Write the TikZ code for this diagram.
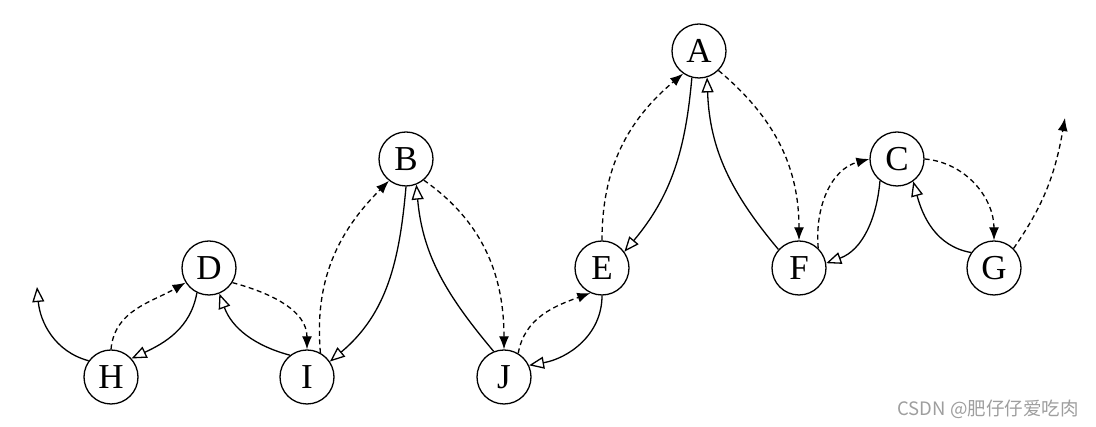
\documentclass[tikz,border=0pt]{standalone}
\usepackage{fontspec}
\setmainfont{Liberation Serif}
\newfontfamily\cjk{Noto Sans CJK SC}
\usetikzlibrary{arrows.meta}
\begin{document}
\begin{tikzpicture}[x=1pt,y=1pt,
  st/.style={circle, draw, line width=1.3pt, minimum size=54pt, inner sep=0pt, font=\fontsize{35}{35}\selectfont},
  sol/.style={line width=1.3pt, -{Triangle[open,length=15pt,width=12pt,fill=white]}},
  das/.style={line width=1.3pt, dash pattern=on 5pt off 3.5pt, -{Latex[length=13pt,width=10pt]}},
  wm/.style={text=black!38, font=\cjk\fontsize{18.5}{18.5}\selectfont}
]
\useasboundingbox (0,0) rectangle (1096,427);
\node[st] (H) at (111,50) {H};
\node[st] (D) at (209,159) {D};
\node[st] (I) at (307,50) {I};
\node[st] (B) at (406,268) {B};
\node[st] (J) at (504,50) {J};
\node[st] (E) at (602,159) {E};
\node[st] (A) at (699,376) {A};
\node[st] (F) at (799,159) {F};
\node[st] (C) at (897,268) {C};
\node[st] (G) at (994,159) {G};
\coordinate (hend) at (37,140);
\coordinate (gend) at (1065,309);

\draw[sol] (H.144) to[out=165,in=275] (hend);
\draw[das] (H.90) to[out=85,in=210] (D.212);
\draw[sol] (D.244) to[out=260,in=25] (H.42);
\draw[das] (D.328) to[out=-15,in=90] (I.90);
\draw[sol] (I.128) to[out=165,in=290] (D.292);
\draw[das] (I.61) to[out=95,in=225] (B.232);
\draw[sol] (B.270) to[out=265,in=40] (I.34);
\draw[das] (B.310) to[out=-35,in=90] (J.90);
\draw[sol] (J.112) to[out=130,in=275] (B.292);
\draw[das] (J.59) to[out=80,in=200] (E.245);
\draw[sol] (E.270) to[out=270,in=10] (J.25);
\draw[das] (E.90) to[out=90,in=220] (A.235);
\draw[sol] (A.255) to[out=265,in=50] (E.36);
\draw[das] (A.315) to[out=-40,in=90] (F.90);
\draw[sol] (F.138) to[out=130,in=272] (A.287);
\draw[das] (F.46) to[out=95,in=195] (C.180);
\draw[sol] (C.232) to[out=265,in=20] (F.10);
\draw[das] (C.0) to[out=-5,in=90] (G.90);
\draw[sol] (G.146) to[out=170,in=285] (C.306);
\draw[das] (G.45) to[out=55,in=260] (gend);

\node[wm] (wmk) at (988,18) {CSDN @肥仔仔爱吃肉};
\end{tikzpicture}
\end{document}
